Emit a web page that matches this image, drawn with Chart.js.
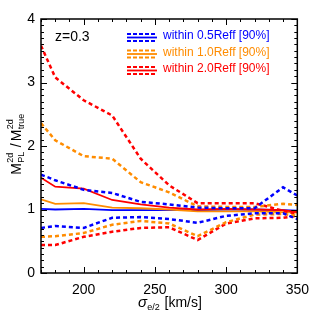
<!DOCTYPE html>
<html>
<head>
<meta charset="utf-8">
<script src="https://cdn.jsdelivr.net/npm/chart.js@4/dist/chart.umd.min.js"></script>
<style>
html,body{margin:0;padding:0;background:#fff;}
#wrap{width:318px;height:318px;position:relative;}
</style>
</head>
<body>
<div id="wrap"><canvas id="c" width="318" height="318"></canvas></div>
<script>
// ---- data ----
const sigma = [170,180,200,220,240,260,280,300,320,340,350];
const blueHi  = [1.55,1.46,1.31,1.26,1.12,1.08,1.03,1.02,1.02,1.35,1.22];
const blueMed = [1.01,1.00,1.01,0.99,0.99,0.99,0.99,1.00,1.00,0.99,0.98];
const blueLo  = [0.71,0.74,0.71,0.87,0.88,0.85,0.79,0.90,0.94,0.94,0.85];
const orangeHi  = [2.36,2.09,1.84,1.80,1.43,1.27,1.05,1.04,1.04,1.09,1.07];
const orangeMed = [1.16,1.09,1.10,1.03,1.02,1.00,0.97,0.97,0.97,0.96,0.95];
const orangeLo  = [0.57,0.58,0.63,0.76,0.82,0.78,0.58,0.80,0.92,0.93,0.90];
const redHi  = [3.58,3.08,2.72,2.48,1.80,1.38,1.10,1.10,1.10,0.98,0.93];
const redMed = [1.50,1.36,1.33,1.15,1.08,1.03,1.00,1.01,1.00,0.99,0.96];
const redLo  = [0.44,0.44,0.57,0.65,0.71,0.72,0.52,0.78,0.86,0.87,0.90];
const xTickLabels = [200,250,300,350];
const yTickLabels = [0,1,2,3,4];
const legendLabels = ['within 0.5Reff [90%]','within 1.0Reff [90%]','within 2.0Reff [90%]'];
const redshiftLabel = 'z=0.3';

const BLUE='#0000ff', ORANGE='#ff8c00', RED='#ff0000';
const FONT='"Liberation Sans", Arial, sans-serif';

function pts(ys){ return sigma.map((x,i)=>({x:x,y:ys[i]})); }
function ds(ys,color,dashed){
  return {data:pts(ys),borderColor:color,backgroundColor:color,
    borderWidth: dashed?2.5:1.8, borderDash: dashed?[4,3]:[],
    pointRadius:0, tension:0, fill:false};
}

const decor = {
  id:'decor',
  afterDraw(chart){
    const ctx=chart.ctx, a=chart.chartArea, xs=chart.scales.x, ys=chart.scales.y;
    ctx.save();
    // frame
    ctx.strokeStyle='#000'; ctx.lineWidth=1.5; ctx.setLineDash([]);
    ctx.strokeRect(a.left,a.top,a.right-a.left,a.bottom-a.top);
    ctx.lineWidth=1;
    ctx.beginPath();
    for(let v=170; v<=350; v+=10){
      const px=Math.round(xs.getPixelForValue(v))+0.5;
      const L = (v%50===0)?6:3;
      ctx.moveTo(px,a.bottom); ctx.lineTo(px,a.bottom-L);
      ctx.moveTo(px,a.top); ctx.lineTo(px,a.top+L);
    }
    for(let i=0;i<=40;i++){
      const v=i/10;
      const py=Math.round(ys.getPixelForValue(v))+0.5;
      const L=(i%10===0)?6:3;
      ctx.moveTo(a.left,py); ctx.lineTo(a.left+L,py);
      ctx.moveTo(a.right,py); ctx.lineTo(a.right-L,py);
    }
    ctx.stroke();

    // z label
    ctx.fillStyle='#000';
    ctx.font='14px '+FONT; ctx.textBaseline='middle'; ctx.textAlign='left';
    ctx.fillText(redshiftLabel,55,37);

    // legend
    const cols=[BLUE,ORANGE,RED];
    const rowsY=[37.5,54,70.5];
    for(let i=0;i<3;i++){
      const y=rowsY[i];
      ctx.strokeStyle=cols[i];
      ctx.lineWidth=2; ctx.setLineDash([4,2]);
      ctx.beginPath(); ctx.moveTo(127,y-3.5); ctx.lineTo(157,y-3.5); ctx.stroke();
      ctx.beginPath(); ctx.moveTo(127,y+3.5); ctx.lineTo(157,y+3.5); ctx.stroke();
      ctx.setLineDash([]); ctx.lineWidth=1.8;
      ctx.beginPath(); ctx.moveTo(127,y); ctx.lineTo(157,y); ctx.stroke();
      ctx.fillStyle=cols[i];
      ctx.font='12px '+FONT; ctx.textBaseline='middle';
      ctx.fillText(legendLabels[i],163,y-1.5);
    }

    // x title
    ctx.fillStyle='#000'; ctx.textBaseline='alphabetic';
    const big='14px '+FONT, sm='9px '+FONT, ital='italic 15px '+FONT;
    ctx.font=ital; const w1=ctx.measureText('σ').width;
    ctx.font=sm; const w2=ctx.measureText('e/2').width;
    ctx.font=big; const w3=ctx.measureText(' [km/s]').width;
    let x0=170-(w1+w2+1+w3)/2, by=307;
    ctx.font=ital; ctx.fillText('σ',x0,by); x0+=w1;
    ctx.font=sm; ctx.fillText('e/2',x0,by+3); x0+=w2+1;
    ctx.font=big; ctx.fillText(' [km/s]',x0,by);

    // y title (rotated)
    ctx.save();
    ctx.translate(21,144); ctx.rotate(-Math.PI/2);
    const parts=[['M','2d','PL'],['M','2d','true']];
    ctx.font=big; const wm=ctx.measureText('M').width, wsl=ctx.measureText(' /').width;
    ctx.font=sm;
    const wA=wm+Math.max(ctx.measureText('2d').width,ctx.measureText('PL').width)+1;
    const wB=wm+Math.max(ctx.measureText('2d').width,ctx.measureText('true').width)+1;
    let tx=-(wA+wsl+2+wB)/2;
    for(let k=0;k<2;k++){
      const p=parts[k];
      ctx.font=big; ctx.fillText(p[0],tx,0); tx+=wm+0.5;
      ctx.font=sm; ctx.fillText(p[1],tx,-8); ctx.fillText(p[2],tx,3);
      tx+=Math.max(ctx.measureText(p[1]).width,ctx.measureText(p[2]).width)+0.5;
      if(k===0){ ctx.font=big; ctx.fillText(' /',tx,0); tx+=wsl+2; }
    }
    ctx.restore();
    ctx.restore();
  }
};

new Chart(document.getElementById('c'),{
  type:'line',
  data:{datasets:[
    ds(blueHi,BLUE,true), ds(blueLo,BLUE,true),
    ds(orangeHi,ORANGE,true), ds(orangeLo,ORANGE,true),
    ds(redHi,RED,true), ds(redLo,RED,true),
    ds(redMed,RED,false), ds(orangeMed,ORANGE,false), ds(blueMed,BLUE,false)
  ]},
  options:{
    responsive:false, animation:false, maintainAspectRatio:false,
    layout:{padding:{top:19,right:19,left:0,bottom:0}},
    plugins:{legend:{display:false},tooltip:{enabled:false},title:{display:false}},
    scales:{
      x:{type:'linear',min:170,max:350,
        afterBuildTicks(s){ s.ticks=xTickLabels.map(v=>({value:v})); },
        afterFit(s){ s.height=45; },
        grid:{display:false,drawTicks:false}, border:{display:false},
        ticks:{color:'#000',font:{family:FONT,size:14},padding:9,maxRotation:0,autoSkip:false}},
      y:{type:'linear',min:0,max:4,
        afterBuildTicks(s){ s.ticks=yTickLabels.map(v=>({value:v})); },
        afterFit(s){ s.width=41; },
        grid:{display:false,drawTicks:false}, border:{display:false},
        ticks:{color:'#000',font:{family:FONT,size:14},padding:6,autoSkip:false}}
    }
  },
  plugins:[decor]
});
</script>
</body>
</html>
